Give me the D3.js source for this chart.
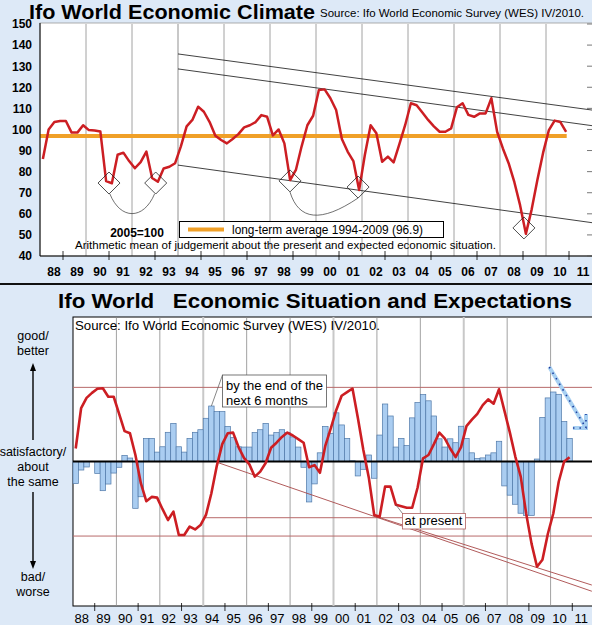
<!DOCTYPE html>
<html>
<head>
<meta charset="utf-8">
<script src="https://cdn.jsdelivr.net/npm/d3@7"></script>
<style>
body{margin:0;background:#dde9f7}
svg{display:block}
text{font-family:"Liberation Sans",Arial,sans-serif}
</style>
</head>
<body>
<svg id="chart" width="592" height="625"></svg>
<script>
// ---- data ----
// Ifo World Economic Climate, quarterly from 1988 Q1 (2005=100)
const climate = [86,100,103.5,104,104,98.5,98.5,102,99.7,99.5,99,75.5,74.5,88,89,85,81.6,84.5,89.5,77,
  75.2,81.5,82.3,84,92,101.5,104.5,110.8,108.4,103.5,97,95,93.4,95.5,97.8,101,102,103.5,106.8,106,
  97.2,100,93.4,76,80.8,92,102,106.5,118.7,119,114.8,109.2,95.5,89.5,85,71.3,88,102,98.2,84.7,
  87.1,84.4,93,102,112.4,111.5,108,104.5,101.5,98.9,98.9,100.5,110.5,112.4,106.9,106,107.6,107.6,114.8,98.9,
  91,84,75,64,50.5,62,76,89,99.7,104.2,103.5,98.9];
const longTermAvg = 96.9;
const climateTicks = [40,50,60,70,80,90,100,110,120,130,140,150];
const yearLabels = ["88","89","90","91","92","93","94","95","96","97","98","99","00","01","02","03","04","05","06","07","08","09","10","11"];
// trough markers [year, value]
const troughs = [[1991.0,74.6],[1993.03,74.6],[1998.87,75.6],[2001.83,72.7],[2009.04,53.3]];
// trend lines [year0, value0, year1, value1]
const climateTrends = [[1994,135.8,2012,109.2],[1994,128.7,2012,101.8],[1994,83.1,2012,55.8]];
// U-curves under troughs [year, value] points (start, control1, control2, end)
const troughArcs = [
  [[1991.04,69.4],[1991.5,57],[1992.5,57],[1992.98,69.4]],
  [[1998.87,70.3],[1999.25,57],[2000.2,55.5],[2001.83,67.5]]
];

// Ifo World economic expectations (bars) and present situation (line), quarterly from 1988 Q1, balances
const expectations = [-15.3,-5.9,-3.8,0,-8.3,-20.2,-15.6,-8,-4,4.2,2.4,-32.4,-24.4,16,16,6.5,10.2,20.2,26.4,10.2,
  6.5,16,20.2,22,29.9,38.4,34.5,34.5,24.3,16.5,10.2,10,10,20,22,26.4,18.3,20,22,20,
  17,10,-4,-28,-15.5,6,24.3,19.5,33.7,25.3,16,0.5,-10,-5.4,4.5,-11.6,18.3,39.8,31.5,10,
  16,11,30.2,40.8,46.3,42,31.5,15.7,10,15.7,13,24.4,16,6,2,2.5,4.5,6,14,-16.9,
  -23.3,-29.6,-35.8,-37.3,-37.3,1.7,30.5,44,48.1,46.5,27.6,16];
const situation = [9,37,44,47.5,50.3,50.7,44.8,44.8,33,21,19.5,4.5,-15,-27.5,-24.5,-25,-33,-40.5,-34.7,-50.9,
  -50.9,-45,-47,-44,-37,-22,-3,12,19.5,20,10,2.5,-2,-10.5,-7,-1,9.5,13,17,20,
  18,15.5,13,-4,-2.5,-7.8,11,23,35.5,45.5,48,50.5,30,8,-11,-37,-38.2,-17.4,-17.4,-30,
  -31,-32,-32,-18,2.2,4.5,12,20,16,9,3,10,24.5,29,33,39,43,40,50,35,
  20,3.4,-10.5,-36,-57,-72.8,-68,-50,-36,-14,0,2.9];
// horizontal reference lines [fromYear, value]
const refLines = [[1988,51.3],[1994,-38.9],[1988,-51.6]];
// falling trend lines [year0, value0, year1, value1]
const sitTrends = [[1994.72,-1,2011.9,-89.8],[2001.99,-38.2,2011.9,-85.5]];
// expectation arrow [year, value]: start, tip, arm ends
const expArrow = {start:[2009.94,65.4], tip:[2011.63,23.2], armH:[2011.03,23.2], armV:[2011.63,32.9]};

// ---- drawing ----
const svg = d3.select("#chart");
const W = 592, H = 625;
const red = "#cc1e23";

svg.append("rect").attr("width", W).attr("height", H).attr("fill", "#dde9f7");

// ===== top panel =====
const xTop = d3.scaleLinear().domain([1988, 2012]).range([40, 592]);
const yTop = d3.scaleLinear().domain([40, 150]).range([256, 24]);
const qYear = i => 1988 + (i + 0.5) / 4;

svg.append("text").attr("x", 29).attr("y", 18.5)
  .attr("font-size", 21).attr("font-weight", "bold")
  .attr("textLength", 286).attr("lengthAdjust", "spacingAndGlyphs")
  .text("Ifo World Economic Climate");
svg.append("text").attr("x", 320).attr("y", 16.5)
  .attr("font-size", 11.6)
  .attr("textLength", 264).attr("lengthAdjust", "spacingAndGlyphs")
  .text("Source: Ifo World Economic Survey (WES) IV/2010.");

const topG = svg.append("g");
topG.append("rect").attr("x", 40).attr("y", 23).attr("width", 560).attr("height", 233)
  .attr("fill", "#fff").attr("stroke", "#999").attr("stroke-width", 0.8);

// vertical grid every two years
topG.selectAll(".vg").data(d3.range(1990, 2011, 2)).enter().append("line")
  .attr("x1", d => xTop(d)).attr("x2", d => xTop(d))
  .attr("y1", yTop(150)).attr("y2", yTop(40))
  .attr("stroke", d => d === 1994 ? "#c8c8c8" : "#8a8a8a")
  .attr("stroke-width", d => d === 1994 ? 2 : 0.8);

// trend lines
topG.selectAll(".tr").data(climateTrends).enter().append("line")
  .attr("x1", d => xTop(d[0])).attr("y1", d => yTop(d[1]))
  .attr("x2", d => xTop(d[2])).attr("y2", d => yTop(d[3]))
  .attr("stroke", "#111").attr("stroke-width", 0.8);

// U arcs
topG.selectAll(".arc").data(troughArcs).enter().append("path")
  .attr("d", d => {
    const p = d.map(q => [xTop(q[0]), yTop(q[1])]);
    return `M${p[0]}C${p[1]} ${p[2]} ${p[3]}`;
  })
  .attr("fill", "none").attr("stroke", "#333").attr("stroke-width", 0.7);

// long-term average
topG.append("line")
  .attr("x1", xTop(1988)).attr("x2", xTop(2010.9))
  .attr("y1", yTop(longTermAvg)).attr("y2", yTop(longTermAvg))
  .attr("stroke", "#f0a028").attr("stroke-width", 4);

// climate line
topG.append("path").datum(climate)
  .attr("d", d3.line().x((d, i) => xTop(qYear(i))).y(d => yTop(d)))
  .attr("fill", "none").attr("stroke", red).attr("stroke-width", 2.5)
  .attr("stroke-linejoin", "round");

// trough diamonds
topG.selectAll(".dia").data(troughs).enter().append("path")
  .attr("d", d => {
    const cx = xTop(d[0]), cy = yTop(d[1]), r = 11;
    return `M${cx},${cy - r}L${cx + r},${cy}L${cx},${cy + r}L${cx - r},${cy}Z`;
  })
  .attr("fill", "none").attr("stroke", "#222").attr("stroke-width", 0.8);

// axes
topG.append("line").attr("x1", 40).attr("x2", 40).attr("y1", 23).attr("y2", 256).attr("stroke", "#000");
topG.append("line").attr("x1", 40).attr("x2", 592).attr("y1", 256).attr("y2", 256).attr("stroke", "#000");
topG.selectAll(".xt").data(d3.range(1989, 2012, 2)).enter().append("line")
  .attr("x1", d => xTop(d)).attr("x2", d => xTop(d))
  .attr("y1", 251).attr("y2", 260).attr("stroke", "#000").attr("stroke-width", 0.8);
topG.selectAll(".rt").data(climateTicks).enter().append("line")
  .attr("x1", 587).attr("x2", 592)
  .attr("y1", d => yTop(d)).attr("y2", d => yTop(d))
  .attr("stroke", "#555").attr("stroke-width", 0.8);
topG.selectAll(".yl").data(climateTicks).enter().append("text")
  .attr("x", 32).attr("y", d => yTop(d)).attr("dy", "0.36em")
  .attr("text-anchor", "end").attr("font-size", 12).attr("font-weight", "bold")
  .text(d => d);
topG.selectAll(".xl").data(yearLabels).enter().append("text")
  .attr("x", (d, k) => xTop(1988 + k + 0.5) + 2.5).attr("y", 275.5)
  .attr("text-anchor", "middle").attr("font-size", 12).attr("font-weight", "bold")
  .text(d => d);

// legend & notes
topG.append("rect").attr("x", 179.5).attr("y", 221.5).attr("width", 264).attr("height", 16)
  .attr("fill", "#fff").attr("stroke", "#000").attr("stroke-width", 1);
topG.append("line").attr("x1", 188).attr("x2", 224).attr("y1", 229.5).attr("y2", 229.5)
  .attr("stroke", "#f0a028").attr("stroke-width", 4);
topG.append("text").attr("x", 232).attr("y", 234)
  .attr("font-size", 12).attr("textLength", 191).attr("lengthAdjust", "spacingAndGlyphs")
  .text("long-term average 1994-2009 (96.9)");
topG.append("text").attr("x", 137).attr("y", 236.5).attr("text-anchor", "middle")
  .attr("font-size", 12).attr("font-weight", "bold").text("2005=100");
topG.append("text").attr("x", 75).attr("y", 248.5)
  .attr("font-size", 11.5).attr("textLength", 421).attr("lengthAdjust", "spacingAndGlyphs")
  .text("Arithmetic mean of judgement about the present and expected economic situation.");

// separator
svg.append("rect").attr("x", 0).attr("y", 283).attr("width", W).attr("height", 2).attr("fill", "#111");

// ===== bottom panel =====
const xBot = d3.scaleLinear().domain([1988, 2012]).range([73, 594]);
const yBot = d3.scaleLinear().domain([-100, 100]).range([606, 317]);

svg.append("text").attr("x", 58).attr("y", 308)
  .attr("font-size", 21).attr("font-weight", "bold").style("white-space", "pre")
  .attr("textLength", 514).attr("lengthAdjust", "spacingAndGlyphs")
  .text("Ifo World   Economic Situation and Expectations");

const botG = svg.append("g");
botG.append("rect").attr("x", 73).attr("y", 317).attr("width", 530).attr("height", 289)
  .attr("fill", "#fff").attr("stroke", "#000").attr("stroke-width", 1);

botG.selectAll(".vg").data(d3.range(1990, 2011, 2)).enter().append("line")
  .attr("x1", d => xBot(d)).attr("x2", d => xBot(d))
  .attr("y1", 317).attr("y2", 606)
  .attr("stroke", d => (d - 1994) % 6 === 0 ? "#c8c8c8" : "#8a8a8a")
  .attr("stroke-width", d => (d - 1994) % 6 === 0 ? 2 : 0.8);

botG.selectAll(".rl").data(refLines).enter().append("line")
  .attr("x1", d => xBot(d[0])).attr("x2", 592)
  .attr("y1", d => yBot(d[1])).attr("y2", d => yBot(d[1]))
  .attr("stroke", "#b86a6a").attr("stroke-width", 1);

// expectation bars
botG.selectAll(".bar").data(expectations).enter().append("rect")
  .attr("x", (d, j) => xBot(1988 + j / 4))
  .attr("width", (d, j) => xBot(1988 + (j + 1) / 4) - xBot(1988 + j / 4))
  .attr("y", d => Math.min(yBot(d), yBot(0)))
  .attr("height", d => Math.abs(yBot(d) - yBot(0)))
  .attr("fill", "#aacdf1").attr("stroke", "#4f78a8").attr("stroke-width", 0.7);

// zero line
botG.append("line").attr("x1", 73).attr("x2", 592).attr("y1", yBot(0)).attr("y2", yBot(0))
  .attr("stroke", "#000").attr("stroke-width", 2);

// falling trend lines
botG.selectAll(".st").data(sitTrends).enter().append("line")
  .attr("x1", d => xBot(d[0])).attr("y1", d => yBot(d[1]))
  .attr("x2", d => xBot(d[2])).attr("y2", d => yBot(d[3]))
  .attr("stroke", "#a84848").attr("stroke-width", 0.9);

// situation line
botG.append("path").datum(situation)
  .attr("d", d3.line().x((d, j) => xBot(qYear(j))).y(d => yBot(d)))
  .attr("fill", "none").attr("stroke", red).attr("stroke-width", 2.6)
  .attr("stroke-linejoin", "round");

// expectation arrow
const ap = k => [xBot(expArrow[k][0]), yBot(expArrow[k][1])];
const arrowPath = `M${ap("start")}L${ap("tip")}M${ap("armH")}L${ap("tip")}L${ap("armV")}`;
botG.append("path").attr("d", arrowPath).attr("fill", "none")
  .attr("stroke", "#a8d0f2").attr("stroke-width", 4);
botG.append("path").attr("d", arrowPath).attr("fill", "none")
  .attr("stroke", "#1c3c9c").attr("stroke-width", 1.6).attr("stroke-dasharray", "1.5,5");

// annotation boxes
const j25 = 25;
botG.append("line").attr("x1", 222.5).attr("y1", 375)
  .attr("x2", xBot(qYear(j25))).attr("y2", yBot(expectations[j25]))
  .attr("stroke", "#555").attr("stroke-width", 0.7);
botG.append("rect").attr("x", 222.5).attr("y", 375).attr("width", 104).attr("height", 32)
  .attr("fill", "#fff").attr("stroke", "#555").attr("stroke-width", 0.8);
botG.append("text").attr("x", 226).attr("y", 389.5).attr("font-size", 13)
  .attr("textLength", 97).attr("lengthAdjust", "spacingAndGlyphs").text("by the end of the");
botG.append("text").attr("x", 226).attr("y", 405).attr("font-size", 13).text("next 6 months");

const j59 = 59;
botG.append("line").attr("x1", xBot(qYear(j59))).attr("y1", yBot(situation[j59]))
  .attr("x2", 402.5).attr("y2", 513.5).attr("stroke", "#555").attr("stroke-width", 0.7);
botG.append("rect").attr("x", 402.5).attr("y", 513.5).attr("width", 63).attr("height", 15.5)
  .attr("fill", "#fff").attr("stroke", "#b06060").attr("stroke-width", 0.8);
botG.append("text").attr("x", 404.5).attr("y", 524.5).attr("font-size", 13).text("at present");

botG.append("text").attr("x", 75).attr("y", 330)
  .attr("font-size", 13.5).attr("textLength", 305).attr("lengthAdjust", "spacingAndGlyphs")
  .text("Source: Ifo World Economic Survey (WES) IV/2010.");

// x axis
botG.selectAll(".xt").data(d3.range(1989, 2012, 2)).enter().append("line")
  .attr("x1", d => xBot(d)).attr("x2", d => xBot(d))
  .attr("y1", 603).attr("y2", 611).attr("stroke", "#000").attr("stroke-width", 0.8);
botG.selectAll(".xl").data(yearLabels).enter().append("text")
  .attr("x", (d, k) => xBot(1988 + k + 0.5) - 2).attr("y", 622.5)
  .attr("text-anchor", "middle").attr("font-size", 13)
  .text(d => d);

// left side labels
const side = svg.append("g").attr("font-size", 12.5).attr("text-anchor", "middle");
[["good/",339.5],["better",354.5],["satisfactory/",456],["about",470.5],["the same",485.5],["bad/",581],["worse",596]]
  .forEach(t => side.append("text").attr("x", 33).attr("y", t[1]).text(t[0]));
function vArrow(x, y1, y2) {
  const dir = y2 < y1 ? 1 : -1;
  svg.append("line").attr("x1", x).attr("x2", x).attr("y1", y1).attr("y2", y2 + dir * 6)
    .attr("stroke", "#000").attr("stroke-width", 1.4);
  svg.append("path").attr("d", `M${x - 3},${y2 + dir * 8}L${x + 3},${y2 + dir * 8}L${x},${y2}Z`).attr("fill", "#000");
}
vArrow(33, 440, 363);
vArrow(33, 492, 569);
</script>
</body>
</html>
